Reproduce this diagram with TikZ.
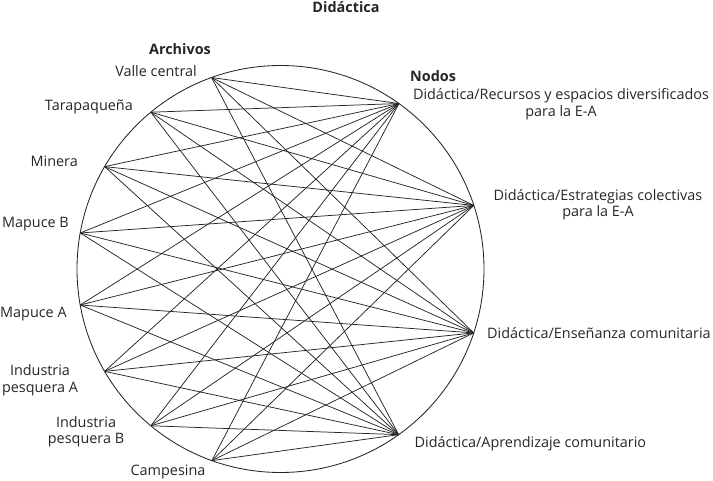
\documentclass[tikz,border=0pt]{standalone}
\usepackage{fontspec}
\setmainfont{Open Sans}
\usetikzlibrary{calc}
\begin{document}
\begin{tikzpicture}[x=1pt,y=1pt,
  lbl/.style={inner sep=0pt,font=\fontsize{14.4}{16.5}\selectfont,text=black!85},
  hdr/.style={inner sep=0pt,font=\fontsize{14.4}{16.5}\selectfont\bfseries,text=black!85},
  edge/.style={draw=black!85,line width=0.75pt}]
\useasboundingbox (0,0) rectangle (713,480);
\coordinate (c) at (280.5,211);
\draw[black!85,line width=0.85pt] (c) circle [radius=203.5];
% archive points
\coordinate (vc) at ($(c)+(109.8:203.5)$);
\coordinate (ta) at ($(c)+(129.6:203.5)$);
\coordinate (mi) at ($(c)+(149.8:203.5)$);
\coordinate (mb) at ($(c)+(169.8:203.5)$);
\coordinate (ma) at ($(c)+(190.2:203.5)$);
\coordinate (ia) at ($(c)+(210.2:203.5)$);
\coordinate (ib) at ($(c)+(230.4:203.5)$);
\coordinate (ca) at ($(c)+(250.3:203.5)$);
% node points
\coordinate (re) at ($(c)+(54.4:203.5)$);
\coordinate (es) at ($(c)+(18.2:203.5)$);
\coordinate (en) at ($(c)+(-18.3:203.5)$);
\coordinate (ap) at ($(c)+(-54.5:203.5)$);
\foreach \a in {vc,ta,mi,mb,ma,ia,ib,ca}
  \foreach \b in {re,es,en,ap}
    \draw[edge] (\a) -- (\b);
% labels
\node[hdr] (title) at (346,472.5) {Didáctica};
\node[hdr] (arch) at (180,431) {Archivos};
\node[hdr,anchor=west] (nodos) at (410,404) {Nodos};
\node[lbl,anchor=east] (lvc) at (197,409) {Valle central};
\node[lbl,anchor=east] (lta) at (133,373) {Tarapaqueña};
\node[lbl,anchor=east] (lmi) at (78,319) {Minera};
\node[lbl,anchor=east] (lmb) at (69,256) {Mapuce B};
\node[lbl,anchor=west] (lma) at (0,166) {Mapuce A};
\node[lbl,align=center] (lia) at (40,99.5) {Industria\\pesquera A};
\node[lbl,align=center] (lib) at (86,48) {Industria\\pesquera B};
\node[lbl] (lca) at (168,8) {Campesina};
\node[lbl,align=center] (lre) at (561,376) {Didáctica/Recursos y espacios diversificados\\para la E-A};
\node[lbl,align=center] (les) at (598,275.5) {Didáctica/Estrategias colectivas\\para la E-A};
\node[lbl,anchor=west] (len) at (487,147) {Didáctica/Enseñanza comunitaria};
\node[lbl,anchor=west] (lap) at (414.5,36) {Didáctica/Aprendizaje comunitario};
\end{tikzpicture}
\end{document}
